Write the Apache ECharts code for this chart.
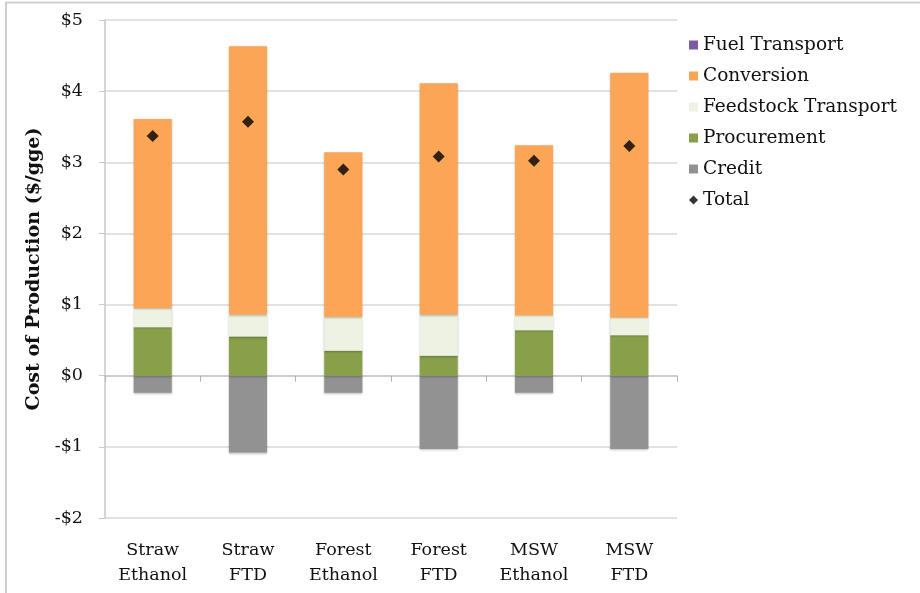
<!DOCTYPE html>
<html>
<head>
<meta charset="utf-8">
<script src="https://cdn.jsdelivr.net/npm/echarts@6/dist/echarts.min.js"></script>
<style>html,body{margin:0;padding:0;background:#fff}#c{width:920px;height:593px}</style>
</head>
<body>
<div id="c"></div>
<script>
const categories = ['Straw\nEthanol', 'Straw\nFTD', 'Forest\nEthanol', 'Forest\nFTD', 'MSW\nEthanol', 'MSW\nFTD'];
const fuelTransport = [0, 0, 0, 0, 0, 0];
const conversion = [2.66, 3.77, 2.31, 3.25, 2.39, 3.44];
const feedstockTransport = [0.27, 0.31, 0.48, 0.58, 0.21, 0.25];
const procurement = [0.68, 0.55, 0.35, 0.28, 0.64, 0.57];
const credit = [-0.24, -1.08, -0.24, -1.03, -0.24, -1.03];
const total = [3.37, 3.57, 2.90, 3.08, 3.02, 3.23];
const yTicks = [-2, -1, 0, 1, 2, 3, 4, 5];

const FONT = 'DejaVu Serif';
const chart = echarts.init(document.getElementById('c'), null, {renderer: 'canvas'});
const barStyle = c => ({color: c, shadowBlur: 2, shadowColor: 'rgba(0,0,0,0.25)', shadowOffsetY: 1});
function bar(name, data, color) {
  return {name, type: 'bar', stack: 'cost', data, barWidth: '40%', itemStyle: barStyle(color), emphasis: {disabled: true}};
}
chart.setOption({
  animation: false,
  textStyle: {fontFamily: FONT},
  grid: {left: 105, right: 243, top: 20, bottom: 75},
  legend: {
    left: 684, top: 30, orient: 'vertical', itemWidth: 9, itemHeight: 9, itemGap: 11,
    textStyle: {fontFamily: FONT, fontSize: 18.5, color: '#111', lineHeight: 20},
    data: [
      {name: 'Fuel Transport', icon: 'rect'},
      {name: 'Conversion', icon: 'rect'},
      {name: 'Feedstock Transport', icon: 'rect'},
      {name: 'Procurement', icon: 'rect'},
      {name: 'Credit', icon: 'rect'},
      {name: 'Total', icon: 'diamond'}
    ]
  },
  xAxis: [
    {type: 'category', data: categories, position: 'bottom',
     axisLine: {show: false, onZero: false}, axisTick: {show: false},
     axisLabel: {fontFamily: FONT, fontSize: 17.5, color: '#111', lineHeight: 25, margin: 20}},
    {type: 'category', data: categories, position: 'bottom',
     axisLine: {show: true, onZero: true, lineStyle: {color: '#c8c8c8', width: 1.5}},
     axisTick: {show: true, length: 6, lineStyle: {color: '#b0b0b0'}},
     axisLabel: {show: false}}
  ],
  yAxis: {
    type: 'value', min: -2, max: 5, interval: 1,
    name: 'Cost of Production ($/gge)', nameLocation: 'middle', nameGap: 60, nameRotate: 90,
    nameTextStyle: {fontFamily: FONT, fontSize: 19, fontWeight: 'bold', color: '#111'},
    axisLine: {show: true, lineStyle: {color: '#c8c8c8', width: 1.5}},
    axisTick: {show: true, length: 6, lineStyle: {color: '#c8c8c8'}},
    splitLine: {lineStyle: {color: '#d9d9d9', width: 1.5}},
    axisLabel: {fontFamily: FONT, fontSize: 17.5, color: '#111', margin: 22,
      formatter: v => yTicks.includes(v) ? (v < 0 ? '-$' + Math.abs(v) : '$' + v) : ''}
  },
  series: [
    bar('Credit', credit, '#929292'),
    bar('Procurement', procurement, '#88a04a'),
    bar('Feedstock Transport', feedstockTransport, '#eef2e3'),
    bar('Conversion', conversion, '#fba557'),
    bar('Fuel Transport', fuelTransport, '#7a5aa0'),
    {name: 'Total', type: 'scatter', data: total, symbol: 'diamond', symbolSize: 12,
     itemStyle: {color: '#000'}, z: 10, emphasis: {disabled: true}}
  ],
  graphic: [
    {type: 'line', shape: {x1: 6, y1: 2.5, x2: 920, y2: 2.5}, style: {stroke: '#d0d0d0', lineWidth: 2}, silent: true},
    {type: 'line', shape: {x1: 6, y1: 2, x2: 6, y2: 593}, style: {stroke: '#d0d0d0', lineWidth: 2}, silent: true}
  ]
});
</script>
</body>
</html>
